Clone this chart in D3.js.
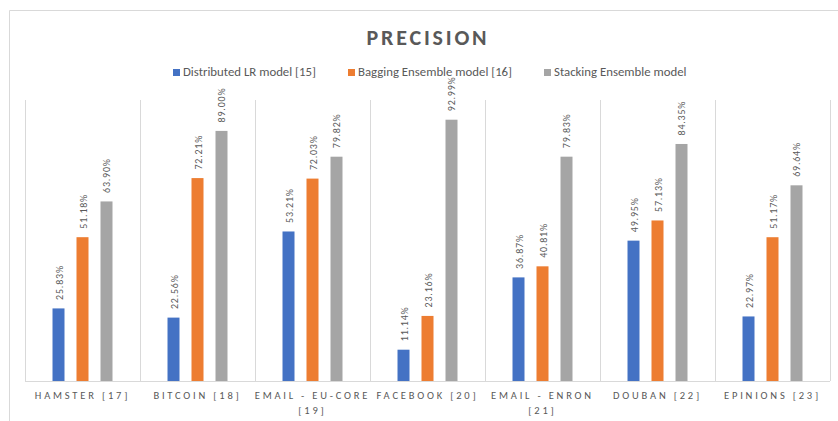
<!DOCTYPE html>
<html><head><meta charset="utf-8">
<script src="https://cdn.jsdelivr.net/npm/d3@7"></script>
<style>
html,body{margin:0;padding:0;background:#fff;}
svg{display:block;font-family:Carlito,"Liberation Sans",Arial,sans-serif;}
</style></head>
<body>
<script>
const categories = ["HAMSTER [17]","BITCOIN [18]","EMAIL - EU-CORE [19]","FACEBOOK [20]","EMAIL - ENRON [21]","DOUBAN [22]","EPINIONS [23]"];
const categoryLines = [["HAMSTER [17]"],["BITCOIN [18]"],["EMAIL - EU-CORE","[19]"],["FACEBOOK [20]"],["EMAIL - ENRON","[21]"],["DOUBAN [22]"],["EPINIONS [23]"]];
const seriesNames = ["Distributed LR model [15]","Bagging Ensemble model [16]","Stacking Ensemble model"];
const distributedLR = [25.83,22.56,53.21,11.14,36.87,49.95,22.97];
const baggingEnsemble = [51.18,72.21,72.03,23.16,40.81,57.13,51.17];
const stackingEnsemble = [63.90,89.00,79.82,92.99,79.83,84.35,69.64];
const seriesValues = [distributedLR, baggingEnsemble, stackingEnsemble];
const colors = ["#4472C4","#ED7D31","#A5A5A5"];
const title = "PRECISION";

const W = 838, H = 421;
const svg = d3.select("body").append("svg").attr("width",W).attr("height",H);
const txt = "#595959", grid = "#D9D9D9";

// outer frame
svg.append("path").attr("d","M9.5,"+H+"V10.5H"+W).attr("fill","none").attr("stroke",grid).attr("stroke-width",1);

const x = d3.scaleBand().domain(categories).range([25,830]).padding(0);
const xs = d3.scaleBand().domain(seriesNames).range([0,x.bandwidth()]).paddingInner(0.5).paddingOuter(1.146);
const y = d3.scaleLinear().domain([0,100]).range([381,100]);

// vertical category dividers
const bounds = categories.map(c=>x(c)).concat([x.range()[1]]);
svg.append("g").selectAll("line").data(bounds).join("line")
  .attr("x1",d=>Math.round(d)+0.5).attr("x2",d=>Math.round(d)+0.5)
  .attr("y1",y(100)).attr("y2",y(0))
  .attr("stroke",grid).attr("stroke-width",1);
// baseline
svg.append("line").attr("x1",x.range()[0]).attr("x2",x.range()[1])
  .attr("y1",y(0)+0.5).attr("y2",y(0)+0.5).attr("stroke",grid);

// bars
seriesNames.forEach((s,si)=>{
  const g = svg.append("g");
  g.selectAll("rect").data(seriesValues[si]).join("rect")
    .attr("x",(d,i)=>x(categories[i])+xs(s))
    .attr("width",xs.bandwidth())
    .attr("y",d=>y(d))
    .attr("height",d=>y(0)-y(d))
    .attr("fill",colors[si]);
  g.selectAll("text").data(seriesValues[si]).join("text")
    .attr("transform",(d,i)=>`translate(${x(categories[i])+xs(s)+xs.bandwidth()/2+0.5},${y(d)-8.5}) rotate(-90)`)
    .attr("dy","0.35em")
    .attr("font-size","10px").attr("letter-spacing","0.8px")
    .attr("fill",txt)
    .text(d=>d.toFixed(2)+"%");
});

// category labels
const cl = svg.append("g");
categories.forEach((c,i)=>{
  const t = cl.append("text").attr("x",x(c)+x.bandwidth()/2).attr("y",399)
    .attr("text-anchor","middle").attr("font-size","10.5px").attr("letter-spacing","2.8px")
    .attr("fill",txt);
  categoryLines[i].forEach((ln,j)=>{
    t.append("tspan").attr("x",x(c)+x.bandwidth()/2).attr("y",399+j*15).text(ln);
  });
});

// title
svg.append("text").attr("x",428).attr("y",45).attr("text-anchor","middle")
  .attr("font-size","22px").attr("font-weight","bold").attr("letter-spacing","2.8px")
  .attr("fill",txt).text(title);

// legend
const legX = [173,348,544];
seriesNames.forEach((s,i)=>{
  svg.append("rect").attr("x",legX[i]).attr("y",69).attr("width",7).attr("height",7).attr("fill",colors[i]);
  svg.append("text").attr("x",legX[i]+10).attr("y",76).attr("font-size","12.8px")
    .attr("fill",txt).text(s);
});
</script>
</body></html>
